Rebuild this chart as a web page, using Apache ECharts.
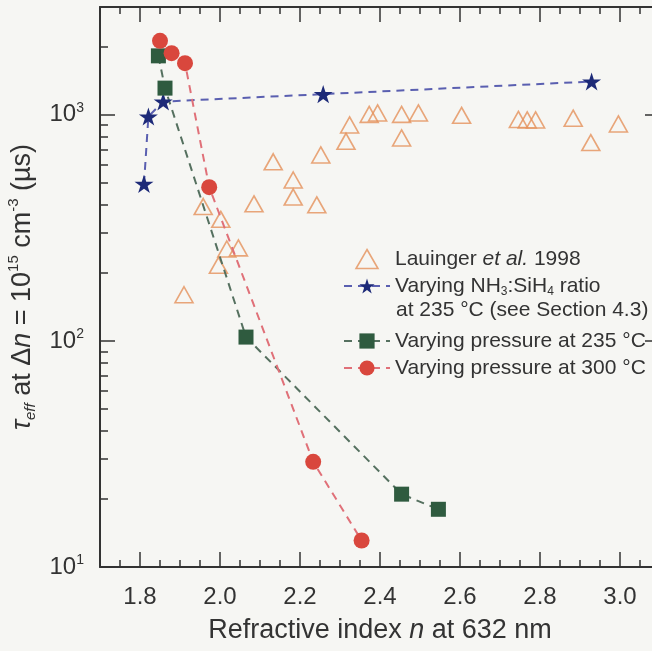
<!DOCTYPE html>
<html>
<head>
<meta charset="utf-8">
<script src="https://cdn.jsdelivr.net/npm/echarts@6/dist/echarts.min.js"></script>
<style>
    html, body { margin: 0; padding: 0; background: #f6f6f3; }
    #chart { width: 652px; height: 651px; }
</style>
</head>
<body>
<div id="chart"></div>
<script>
// Lauinger et al. 1998 (hollow triangles)
const lauingerN = [1.91, 1.958, 1.996, 2.002, 2.017, 2.046, 2.085, 2.133, 2.183, 2.183, 2.242, 2.252, 2.315, 2.324,
    2.373, 2.394, 2.454, 2.454, 2.496, 2.604, 2.746, 2.768, 2.789, 2.883, 2.927, 2.996];
const lauingerTau = [160, 393, 216, 345, 255, 258, 404, 620, 515, 433, 400, 665, 764, 903,
    1005, 1020, 1005, 791, 1020, 995, 955, 950, 950, 967, 754, 912];

// varying NH3:SiH4 ratio at 235 C
const ratioN = [1.81, 1.821, 1.858, 2.258, 2.929];
const ratioTau = [495, 983, 1145, 1235, 1404];

// varying pressure at 235 C
const p235N = [1.846, 1.8625, 2.065, 2.454, 2.546];
const p235Tau = [1824, 1313, 104, 21.0, 18.0];

// varying pressure at 300 C
const p300N = [1.85, 1.879, 1.9125, 1.973, 2.233, 2.354];
const p300Tau = [2125, 1875, 1693, 479, 29.2, 13.1];

const xLabels = [1.8, 2.0, 2.2, 2.4, 2.6, 2.8, 3.0];
const yMajor = [10, 100, 1000];
const yMinor = [20, 30, 40, 50, 60, 70, 80, 90, 200, 300, 400, 500, 600, 700, 800, 900, 2000];

const pairs = (xs, ys) => xs.map((x, i) => [x, ys[i]]);

const font = '"Liberation Sans", Arial, sans-serif';
const axisColor = '#333';
const triColor = '#e5915a';
const starPath = 'path://M50,0L61.2,34.6L97.6,34.5L68,55.9L79.4,90.5L50,69L20.6,90.5L32,55.9L2.4,34.5L38.8,34.6Z';
const triPath = 'path://M50,0L100,86.6L0,86.6Z';

const chart = echarts.init(document.getElementById('chart'));

const axisLine = { show: true, lineStyle: { color: axisColor, width: 2 } };
const tickStyle = { color: axisColor, width: 1.5 };
const noSplit = { show: false };

const xBase = { type: 'value', min: 1.7, max: 3.1, splitLine: noSplit };
const yBase = { type: 'log', min: 10, max: 3000, splitLine: noSplit };

const legendText = {
    fontSize: 21, color: '#333', fontFamily: font, lineHeight: 24,
    rich: {
        i: { fontSize: 21, fontStyle: 'italic', color: '#333', fontFamily: font, lineHeight: 24 },
        sub: { fontSize: 12, color: '#333', fontFamily: font, verticalAlign: 'bottom', lineHeight: 12 }
    }
};

const option = {
    backgroundColor: '#f6f6f3',
    animation: false,
    grid: { left: 100, right: -8, top: 7, bottom: 84, outerBoundsMode: 'none' },
    xAxis: [
        Object.assign({}, xBase, {
            position: 'bottom', interval: 0.05,
            axisLine: axisLine,
            axisTick: { inside: true, length: 7, lineStyle: tickStyle },
            axisLabel: {
                customValues: xLabels, formatter: (v) => v.toFixed(1),
                margin: 18, fontSize: 24, color: '#333', fontFamily: font
            },
            name: 'Refractive index {i|n} at 632 nm', nameLocation: 'middle', nameGap: 50,
            nameTextStyle: {
                fontSize: 27, color: '#333', fontFamily: font,
                rich: { i: { fontSize: 27, fontStyle: 'italic', color: '#333', fontFamily: font } }
            }
        }),
        Object.assign({}, xBase, {
            position: 'bottom', axisLine: { show: false },
            axisTick: { inside: true, length: 15, customValues: xLabels, lineStyle: tickStyle },
            axisLabel: { show: false }
        }),
        Object.assign({}, xBase, {
            position: 'top', interval: 0.05, axisLine: axisLine,
            axisTick: { inside: true, length: 7, lineStyle: tickStyle },
            axisLabel: { show: false }
        }),
        Object.assign({}, xBase, {
            position: 'top', axisLine: { show: false },
            axisTick: { inside: true, length: 15, customValues: xLabels, lineStyle: tickStyle },
            axisLabel: { show: false }
        })
    ],
    yAxis: [
        Object.assign({}, yBase, {
            position: 'left', axisLine: axisLine,
            axisTick: { inside: true, length: 15, customValues: yMajor, lineStyle: tickStyle },
            axisLabel: {
                customValues: yMajor, margin: 16,
                formatter: (v) => '10{sup|' + Math.round(Math.log10(v)) + '}',
                fontSize: 24, color: '#333', fontFamily: font, lineHeight: 28,
                rich: { sup: { fontSize: 14, color: '#333', fontFamily: font, verticalAlign: 'top', lineHeight: 14 } }
            },
            name: '{i|τ}{sub|eff} at Δ{i|n} = 10{sup|15} cm{sup|-3} (µs)',
            nameLocation: 'middle', nameGap: 52, nameRotate: 90,
            nameTextStyle: {
                fontSize: 27, color: '#333', fontFamily: font, lineHeight: 32,
                rich: {
                    i: { fontSize: 27, fontStyle: 'italic', color: '#333', fontFamily: font, lineHeight: 32 },
                    sub: { fontSize: 15, fontStyle: 'italic', color: '#333', fontFamily: font, verticalAlign: 'bottom', lineHeight: 15 },
                    sup: { fontSize: 15, color: '#333', fontFamily: font, verticalAlign: 'top', lineHeight: 15 }
                }
            }
        }),
        Object.assign({}, yBase, {
            position: 'left', axisLine: { show: false },
            axisTick: { inside: true, length: 8, customValues: yMinor, lineStyle: tickStyle },
            axisLabel: { show: false }
        }),
        Object.assign({}, yBase, {
            position: 'right', axisLine: axisLine,
            axisTick: { inside: true, length: 15, customValues: yMajor, lineStyle: tickStyle },
            axisLabel: { show: false }
        })
    ],
    legend: [
        {
            data: [
                {
                    name: 'Lauinger', icon: triPath,
                    itemStyle: { color: 'rgba(0,0,0,0)', borderColor: triColor, borderWidth: 1.6 }
                },
                'ratio'
            ],
            orient: 'vertical', left: 338, top: 242, itemGap: 3,
            itemWidth: 46, itemHeight: 19, symbolKeepAspect: true,
            formatter: (name) => name === 'Lauinger'
                ? 'Lauinger {i|et al.} 1998'
                : 'Varying NH{sub|3}:SiH{sub|4} ratio',
            textStyle: legendText
        },
        {
            data: ['p235', 'p300'],
            orient: 'vertical', left: 338, top: 324, itemGap: 3,
            itemWidth: 46, itemHeight: 19,
            formatter: (name) => name === 'p235' ? 'Varying pressure at 235 °C' : 'Varying pressure at 300 °C',
            textStyle: legendText
        }
    ],
    graphic: [{
        type: 'text', left: 396, top: 300,
        style: { text: 'at 235 °C (see Section 4.3)', fontSize: 21, fill: '#333', fontFamily: font }
    }],
    series: [
        {
            name: 'Lauinger', type: 'scatter',
            data: pairs(lauingerN, lauingerTau),
            symbol: 'triangle', symbolSize: [18, 16],
            itemStyle: { color: 'rgba(0,0,0,0)', borderColor: triColor, borderWidth: 1.6 }
        },
        {
            name: 'ratio', type: 'line',
            data: pairs(ratioN, ratioTau),
            symbol: starPath, symbolSize: 19, symbolKeepAspect: true,
            itemStyle: { color: '#1d2a78' },
            lineStyle: { color: '#5a5fb0', width: 2, type: [8, 6] }
        },
        {
            name: 'p235', type: 'line',
            data: pairs(p235N, p235Tau),
            symbol: 'rect', symbolSize: 15,
            itemStyle: { color: '#2f5b3f' },
            lineStyle: { color: '#55705f', width: 2, type: [8, 6] }
        },
        {
            name: 'p300', type: 'line',
            data: pairs(p300N, p300Tau),
            symbol: 'circle', symbolSize: 16,
            itemStyle: { color: '#d9473d' },
            lineStyle: { color: '#e07078', width: 2, type: [8, 6] }
        }
    ]
};

chart.setOption(option);

window.addEventListener('resize', () => {
    chart.resize();
});
</script>
</body>
</html>
